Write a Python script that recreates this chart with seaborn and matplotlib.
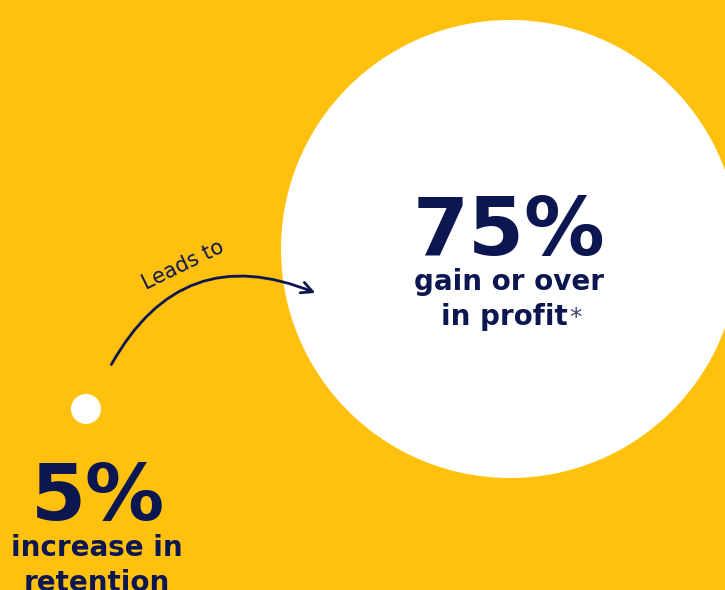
import matplotlib
matplotlib.use("Agg")
import matplotlib.pyplot as plt
import seaborn as sns
import pandas as pd
from matplotlib.patches import FancyArrowPatch

# Data
categories = ["increase in\nretention", "gain or over\nin profit"]
values = [5, 75]
value_labels = ["5%", "75%"]
connector_label = "Leads to"

BG = "#FFC10D"
NAVY = "#0C1650"

sns.set_theme(style="white")
plt.rcParams["font.family"] = ["DejaVu Sans"]

fig = plt.figure(figsize=(7.25, 5.9), dpi=100)
fig.patch.set_facecolor(BG)
ax = fig.add_axes([0, 0, 1, 1])
ax.set_facecolor(BG)

df = pd.DataFrame({
    "category": categories,
    "value": values,
    "x": [86, 510],
    "y": [409, 249],
})

sns.scatterplot(data=df, x="x", y="y", size="value", sizes=(466, 108750),
                size_norm=(5, 75), color="white", edgecolor="none",
                legend=False, ax=ax, zorder=1)

ax.set_xlim(0, 725)
ax.set_ylim(590, 0)
ax.axis("off")

# Big circle text
ax.text(509, 255, value_labels[1], ha="center", va="baseline", fontsize=58,
        fontweight="bold", color=NAVY, zorder=3)
ax.text(509, 290, "gain or over", ha="center", va="baseline", fontsize=20,
        fontweight="bold", color=NAVY, zorder=3)
ax.text(504, 325, "in profit", ha="center", va="baseline", fontsize=20,
        fontweight="bold", color=NAVY, zorder=3)
ax.text(576, 325, "*", ha="center", va="baseline", fontsize=18,
        color="#3A4370", zorder=3)

# Small circle text
ax.text(98, 520, value_labels[0], ha="center", va="baseline", fontsize=57,
        fontweight="bold", color=NAVY, zorder=3)
ax.text(97, 556, "increase in", ha="center", va="baseline", fontsize=20,
        fontweight="bold", color=NAVY, zorder=3)
ax.text(97, 591, "retention", ha="center", va="baseline", fontsize=20,
        fontweight="bold", color=NAVY, zorder=3)

# Connector
arrow = FancyArrowPatch((110, 367), (318, 294),
                        connectionstyle="arc3,rad=-0.45",
                        arrowstyle="->,head_length=8,head_width=4",
                        color=NAVY, lw=2, zorder=2)
ax.add_patch(arrow)
ax.text(183, 265, connector_label, ha="center", va="center", fontsize=15,
        rotation=26, color=NAVY, zorder=3)

fig.savefig("out.png", dpi=100, facecolor=BG)
